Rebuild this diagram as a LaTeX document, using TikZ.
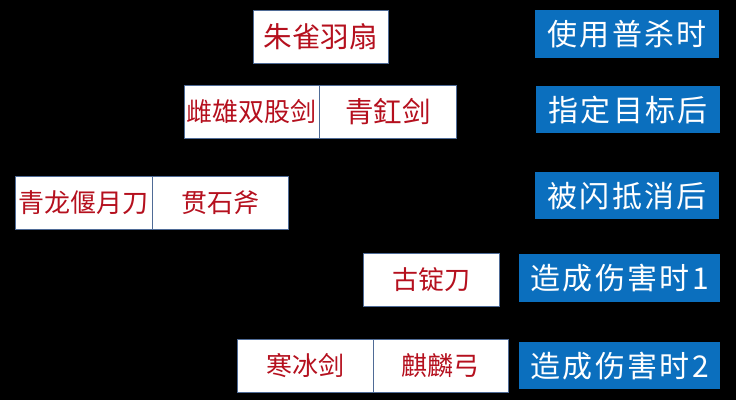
\documentclass[tikz,border=0pt]{standalone}
\usepackage{fontspec}
\newfontfamily\cjk{Noto Sans CJK SC}
\definecolor{wred}{HTML}{B5101E}
\definecolor{wblue}{HTML}{0B6FBE}
\definecolor{wedge}{HTML}{4F6B96}
\begin{document}
\begin{tikzpicture}[x=1pt,y=-1pt,
  weapon/.style={draw=wedge, line width=0.9pt, fill=white, text=wred,
    font=\cjk\fontsize{26}{26}\selectfont, inner sep=0pt, anchor=north west,
    minimum height=53pt},
  timing/.style={fill=wblue, text=white,
    font=\cjk\fontsize{30}{30}\selectfont\addfontfeature{LetterSpace=8}, inner sep=0pt, anchor=north west,
    minimum height=47pt}]
\fill[black] (0,0) rectangle (736,400);
\useasboundingbox (0,0) rectangle (736,400);
% weapons
\node[weapon, minimum width=135pt, font=\cjk\fontsize{28.5}{28.5}\selectfont] (zqys) at (253,10) {朱雀羽扇};
\node[weapon, minimum width=135pt] (cxsg) at (184,85) {雌雄双股剑};
\node[weapon, minimum width=137pt, font=\cjk\fontsize{28.5}{28.5}\selectfont] (qgj) at (319,85) {青釭剑};
\node[weapon, minimum width=137pt] (qlyy) at (15,176) {青龙偃月刀};
\node[weapon, minimum width=136pt] (gsf) at (152,176) {贯石斧};
\node[weapon, minimum width=136pt] (gdd) at (363,253) {古锭刀};
\node[weapon, minimum width=136pt] (hbj) at (237,339) {寒冰剑};
\node[weapon, minimum width=135pt] (qlg) at (373,339) {麒麟弓};
% timings
\node[timing, minimum width=184pt, minimum height=48pt] (t1) at (535,10) {使用普杀时};
\node[timing, minimum width=184pt] (t2) at (536,86) {指定目标后};
\node[timing, minimum width=184pt] (t3) at (535,172) {被闪抵消后};
\node[timing, minimum width=201pt, minimum height=48pt] (t4) at (519,254) {造成伤害时1};
\node[timing, minimum width=201pt] (t5) at (519,342) {造成伤害时2};
\end{tikzpicture}
\end{document}
